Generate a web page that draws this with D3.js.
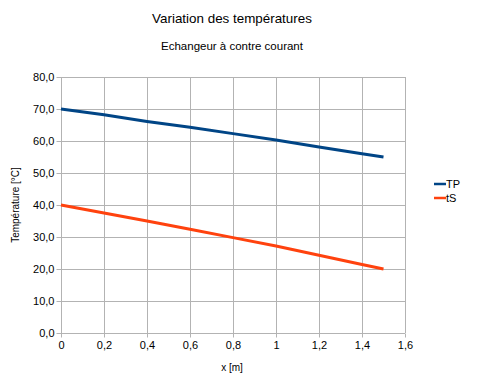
<!DOCTYPE html>
<html>
<head>
<meta charset="utf-8">
<script src="https://cdn.jsdelivr.net/npm/d3@7"></script>
<style>
  body { margin: 0; background: #fff; }
  svg { font-family: "Liberation Sans", Arial, sans-serif; }
  .grid line { stroke: #b3b3b3; stroke-width: 1; }
  .axis path, .axis line { stroke: #b3b3b3; }
  .axis text { fill: #000; font-size: 11px; }
</style>
</head>
<body>
<svg width="477" height="387"></svg>
<script>
// data
var xs = [0, 0.2, 0.4, 0.6, 0.8, 1.0, 1.2, 1.4, 1.5];
var tpValues = [70, 68.2, 66.1, 64.3, 62.3, 60.3, 58.1, 56.0, 55.0];
var tsValues = [40, 37.5, 35.0, 32.4, 29.8, 27.2, 24.3, 21.4, 20.0];
var seriesNames = ["TP", "tS"];
var seriesColors = ["#004586", "#ff420e"];
var xTicks = [0, 0.2, 0.4, 0.6, 0.8, 1, 1.2, 1.4, 1.6];
var yTicks = [0, 10, 20, 30, 40, 50, 60, 70, 80];

(function () {
    var svg = d3.select("svg"),
        margin = {top: 77, left: 61, right: 72, bottom: 54},
        width = 477 - margin.left - margin.right,
        height = 387 - margin.top - margin.bottom,
        g = svg.append("g").attr("transform", "translate(" + margin.left + "," + margin.top + ")");

    var fmtY = function (d) { return d3.format(".1f")(d).replace(".", ","); };
    var fmtX = function (d) { return String(d).replace(".", ","); };

    var scaleX = d3.scaleLinear().domain([0, 1.6]).range([0, width]),
        scaleY = d3.scaleLinear().domain([0, 80]).range([height, 0]);

    // grid
    g.append("g").attr("class", "grid")
        .selectAll("line.v").data(xTicks).enter().append("line")
        .attr("x1", function (d) { return Math.round(scaleX(d)) + 0.5; })
        .attr("x2", function (d) { return Math.round(scaleX(d)) + 0.5; })
        .attr("y1", 0).attr("y2", height);
    g.append("g").attr("class", "grid")
        .selectAll("line.h").data(yTicks).enter().append("line")
        .attr("y1", function (d) { return Math.round(scaleY(d)) + 0.5; })
        .attr("y2", function (d) { return Math.round(scaleY(d)) + 0.5; })
        .attr("x1", 0).attr("x2", width);

    g.append("g").attr("class", "axis")
        .attr("transform", "translate(0," + (height + 0.5) + ")")
        .call(d3.axisBottom(scaleX).tickValues(xTicks).tickFormat(fmtX).tickSize(4).tickSizeOuter(0).tickPadding(4));
    g.append("g").attr("class", "axis")
        .attr("transform", "translate(0.5,0)")
        .call(d3.axisLeft(scaleY).tickValues(yTicks).tickFormat(fmtY).tickSize(5).tickSizeOuter(0).tickPadding(2));
    g.selectAll(".axis .domain").remove();

    var series = [
        {id: seriesNames[0], values: tpValues},
        {id: seriesNames[1], values: tsValues}
    ];

    var line = d3.line()
        .x(function (d, i) { return scaleX(xs[i]); })
        .y(function (d) { return scaleY(d); });

    g.selectAll(".serie").data(series).enter().append("path")
        .attr("class", "serie")
        .attr("fill", "none")
        .attr("stroke-width", 3)
        .attr("stroke", function (d, i) { return seriesColors[i]; })
        .attr("d", function (d) { return line(d.values); });

    // titles
    svg.append("text").attr("x", 232).attr("y", 23).attr("text-anchor", "middle")
        .style("font-size", "13.4px").text("Variation des températures");
    svg.append("text").attr("x", 232).attr("y", 50).attr("text-anchor", "middle")
        .style("font-size", "11.5px").text("Echangeur à contre courant");
    svg.append("text").attr("x", 232).attr("y", 371).attr("text-anchor", "middle")
        .style("font-size", "10px").text("x  [m]");
    svg.append("text").attr("transform", "translate(19,205) rotate(-90)").attr("text-anchor", "middle")
        .style("font-size", "10px").text("Température [°C]");

    // legend
    var legend = svg.selectAll(".legend").data(series).enter().append("g")
        .attr("class", "legend")
        .attr("transform", function (d, i) { return "translate(434," + (184 + i * 14) + ")"; });
    legend.append("line").attr("x1", 0).attr("x2", 12).attr("y1", 0).attr("y2", 0)
        .attr("stroke-width", 2.5)
        .attr("stroke", function (d, i) { return seriesColors[i]; });
    legend.append("text").attr("x", 12).attr("dy", "0.35em")
        .style("font-size", "11px").text(function (d) { return d.id; });
})();
</script>
</body>
</html>
